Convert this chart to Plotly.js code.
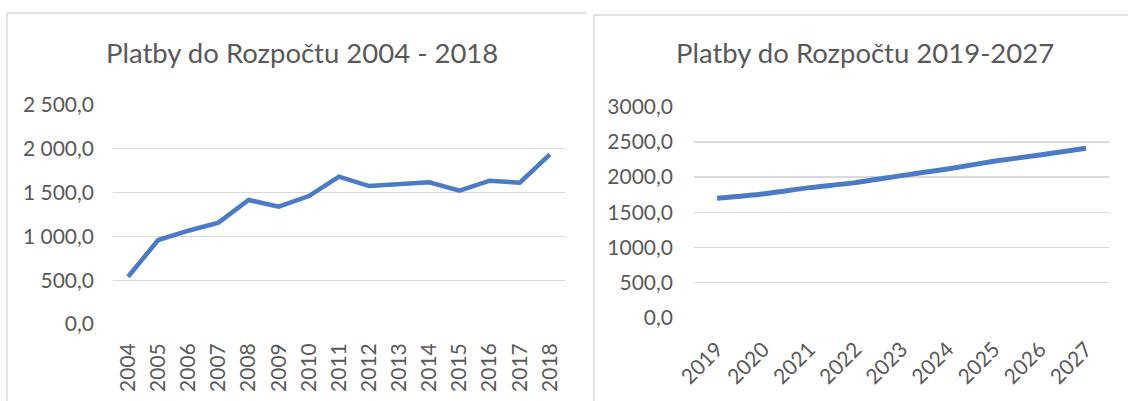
<!DOCTYPE html>
<html>
<head>
<meta charset="utf-8">
<script src="https://cdn.plot.ly/plotly-3.0.1.min.js"></script>
<style>
  html, body { margin: 0; padding: 0; background: #fff; }
  #chart { width: 1128px; height: 401px; }
</style>
</head>
<body>
<div id="chart"></div>
<script>
// ---- data ----
const yearsA = ["2004","2005","2006","2007","2008","2009","2010","2011","2012","2013","2014","2015","2016","2017","2018"];
const valuesA = [540, 959, 1065, 1157, 1416, 1340, 1461, 1682, 1575, 1594, 1617, 1522, 1636, 1613, 1937];
const yearsB = ["2019","2020","2021","2022","2023","2024","2025","2026","2027"];
const valuesB = [1700, 1761, 1851, 1922, 2021, 2116, 2225, 2314, 2410];
const titleA = "Platby do Rozpočtu 2004 - 2018";
const titleB = "Platby do Rozpočtu 2019-2027";

const W = 1128, H = 401;
const px = x => x / W;
const py = y => (H - y) / H;

const FONT = "Lato, 'Open Sans', sans-serif";
const TXT = "#595959";
const GRID = "#d9d9d9";
const BLUE = "#4a7bc4";

const traces = [
  { x: yearsA, y: valuesA, type: "scatter", mode: "lines", xaxis: "x", yaxis: "y",
    line: { color: BLUE, width: 4.5 }, hoverinfo: "x+y" },
  { x: yearsB, y: valuesB, type: "scatter", mode: "lines", xaxis: "x2", yaxis: "y2",
    line: { color: BLUE, width: 5, shape: "spline", smoothing: 0.6 }, hoverinfo: "x+y" }
];

const tickFont = { family: FONT, size: 21, color: TXT };

const layout = {
  width: W, height: H,
  margin: { l: 0, r: 0, t: 0, b: 0 },
  paper_bgcolor: "#fff", plot_bgcolor: "rgba(0,0,0,0)",
  showlegend: false,
  separators: ", ",
  xaxis: {
    domain: [px(113), px(565)], anchor: "y", type: "category",
    range: [-0.5, yearsA.length - 0.5],
    showgrid: false, zeroline: false, showline: false, ticks: "",
    tickangle: -90, tickfont: tickFont, ticklabelstandoff: 14, fixedrange: true
  },
  yaxis: {
    domain: [py(324), py(105)], anchor: "x", range: [0, 2500],
    tickvals: [0, 500, 1000, 1500, 2000, 2500], tickformat: ",.1f",
    showgrid: true, gridcolor: GRID, gridwidth: 1.3, zeroline: false, showline: false,
    ticks: "", tickfont: tickFont, ticklabelstandoff: 18, fixedrange: true
  },
  xaxis2: {
    domain: [px(694), px(1109)], anchor: "y2", type: "category",
    range: [-0.5, yearsB.length - 0.5],
    showgrid: false, zeroline: false, showline: false, ticks: "",
    tickangle: -45, tickfont: tickFont, ticklabelstandoff: 14, fixedrange: true
  },
  yaxis2: {
    domain: [py(318), py(106.7)], anchor: "x2", range: [0, 3000],
    tickvals: [0, 500, 1000, 1500, 2000, 2500, 3000], tickformat: ".1f",
    showgrid: true, gridcolor: GRID, gridwidth: 1.3, zeroline: false, showline: false,
    ticks: "", tickfont: tickFont, ticklabelstandoff: 20, fixedrange: true
  },
  annotations: [
    { text: titleA, xref: "paper", yref: "paper", x: px(301.5), y: py(53),
      xanchor: "center", yanchor: "middle", showarrow: false,
      font: { family: FONT, size: 27.5, color: TXT } },
    { text: titleB, xref: "paper", yref: "paper", x: px(865), y: py(53),
      xanchor: "center", yanchor: "middle", showarrow: false,
      font: { family: FONT, size: 27.5, color: TXT } }
  ],
  shapes: [
    { type: "line", xref: "paper", yref: "paper", x0: px(7), x1: px(587), y0: py(13), y1: py(13),
      line: { color: GRID, width: 1.5 } },
    { type: "line", xref: "paper", yref: "paper", x0: px(7), x1: px(7), y0: py(13), y1: py(401),
      line: { color: GRID, width: 1.5 } },
    { type: "line", xref: "paper", yref: "paper", x0: px(594), x1: px(1128), y0: py(15), y1: py(15),
      line: { color: GRID, width: 1.5 } },
    { type: "line", xref: "paper", yref: "paper", x0: px(594), x1: px(594), y0: py(15), y1: py(401),
      line: { color: GRID, width: 1.5 } }
  ]
};

Plotly.newPlot("chart", traces, layout, { displayModeBar: false, staticPlot: true });
</script>
</body>
</html>
